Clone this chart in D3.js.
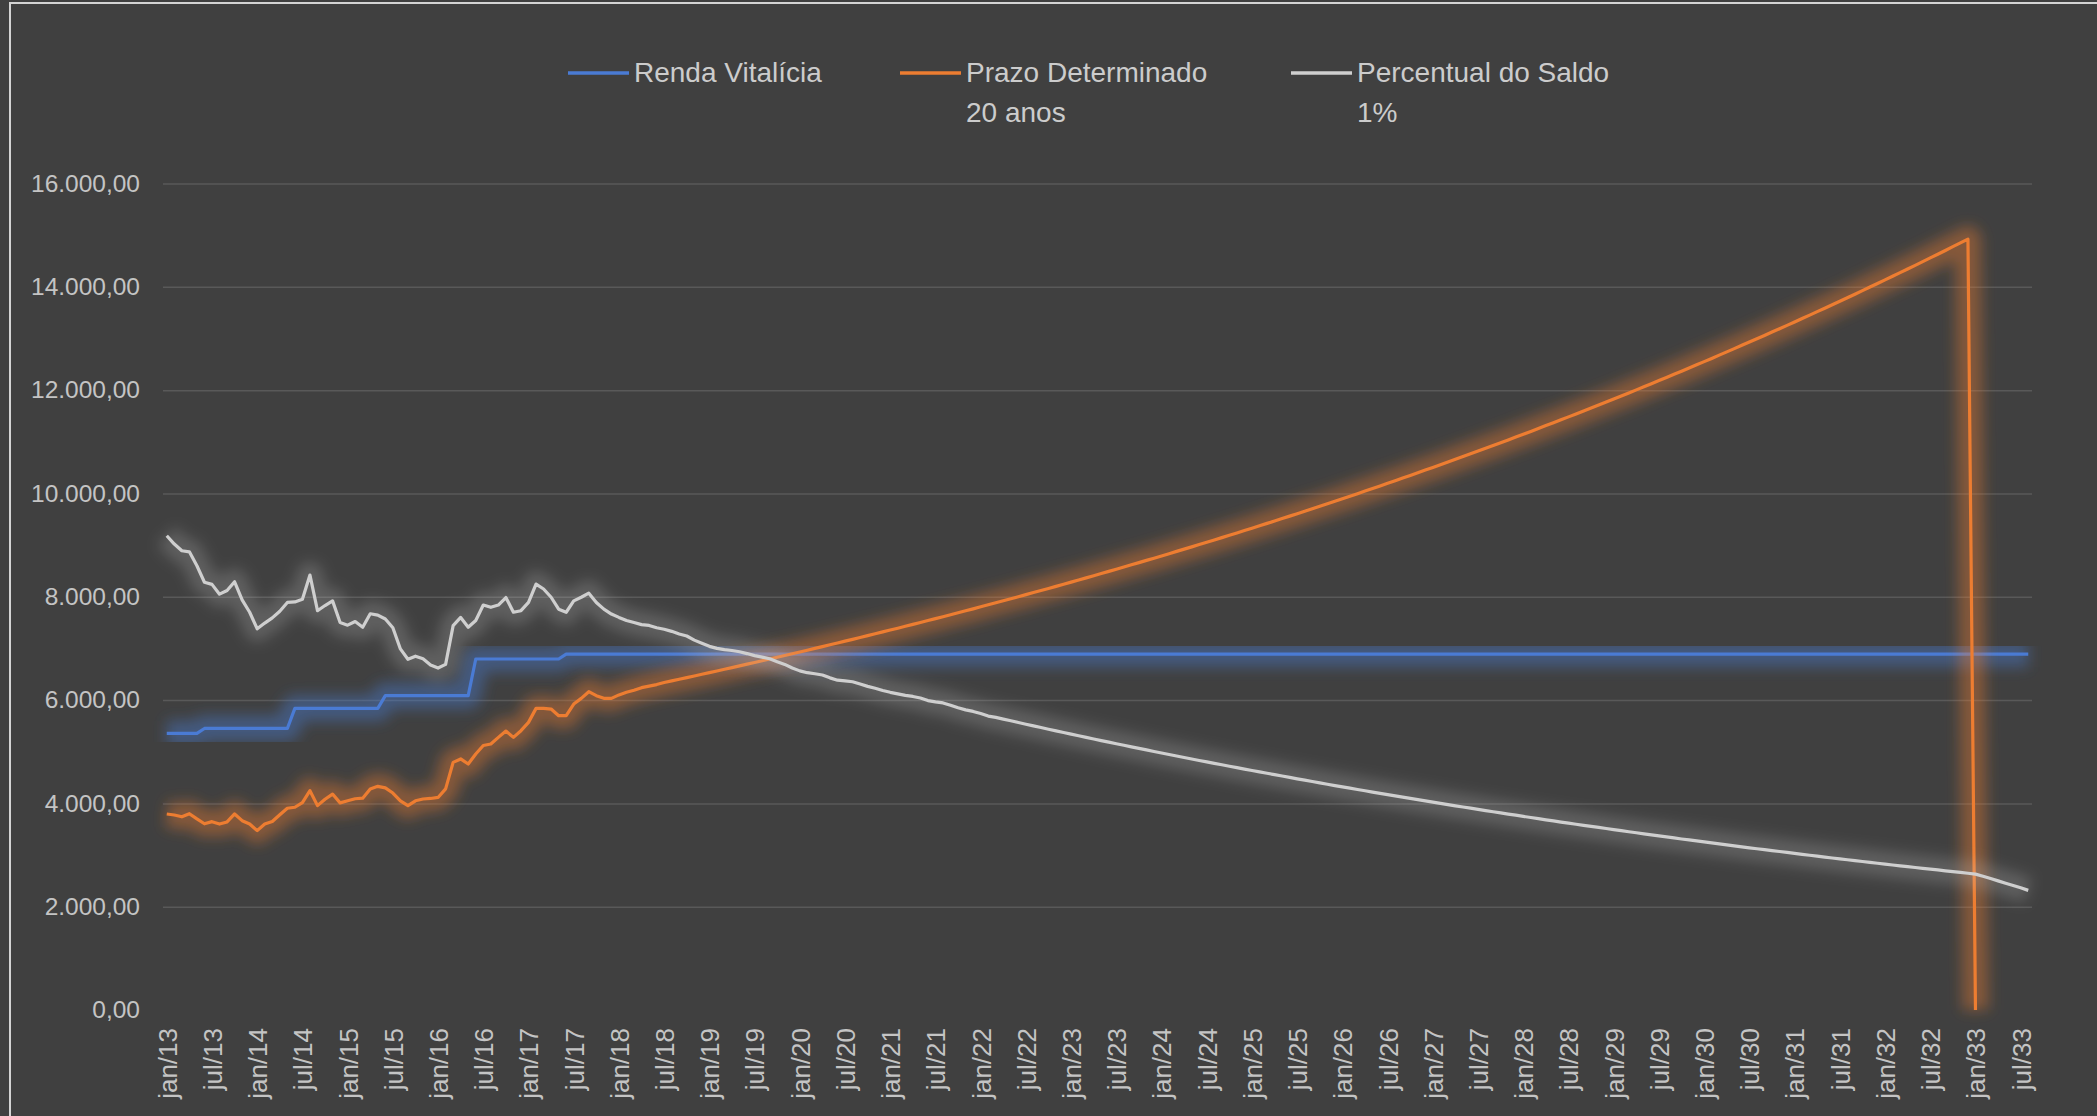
<!DOCTYPE html>
<html>
<head>
<meta charset="utf-8">
<script src="https://cdn.jsdelivr.net/npm/d3@7"></script>
<style>
  html, body { margin: 0; padding: 0; background: #404040; }
  svg { display: block; }
  text { font-family: "Liberation Sans", Arial, sans-serif; }
</style>
</head>
<body>
<svg id="chart" width="2097" height="1116"></svg>
<script>
////////////// Data (one line per year, monthly values jan..dez)
var monthNames = ["jan", "fev", "mar", "abr", "mai", "jun", "jul", "ago", "set", "out", "nov", "dez"];
var firstMonth = new Date(2013, 0, 1),
    lastMonth = new Date(2033, 7, 1);

var yTicks = [0, 2000, 4000, 6000, 8000, 10000, 12000, 14000, 16000];

// Renda Vitalícia
var rendaVitalicia = [
    5355, 5355, 5355, 5355, 5355, 5450, 5450, 5450, 5450, 5450, 5450, 5450,
    5450, 5450, 5450, 5450, 5450, 5840, 5840, 5840, 5840, 5840, 5840, 5840,
    5840, 5840, 5840, 5840, 5840, 6085, 6085, 6085, 6085, 6085, 6085, 6085,
    6085, 6085, 6085, 6085, 6085, 6795, 6795, 6795, 6795, 6795, 6795, 6795,
    6795, 6795, 6795, 6795, 6795, 6890, 6890, 6890, 6890, 6890, 6890, 6890,
    6890, 6890, 6890, 6890, 6890, 6890, 6890, 6890, 6890, 6890, 6890, 6890,
    6890, 6890, 6890, 6890, 6890, 6890, 6890, 6890, 6890, 6890, 6890, 6890,
    6890, 6890, 6890, 6890, 6890, 6890, 6890, 6890, 6890, 6890, 6890, 6890,
    6890, 6890, 6890, 6890, 6890, 6890, 6890, 6890, 6890, 6890, 6890, 6890,
    6890, 6890, 6890, 6890, 6890, 6890, 6890, 6890, 6890, 6890, 6890, 6890,
    6890, 6890, 6890, 6890, 6890, 6890, 6890, 6890, 6890, 6890, 6890, 6890,
    6890, 6890, 6890, 6890, 6890, 6890, 6890, 6890, 6890, 6890, 6890, 6890,
    6890, 6890, 6890, 6890, 6890, 6890, 6890, 6890, 6890, 6890, 6890, 6890,
    6890, 6890, 6890, 6890, 6890, 6890, 6890, 6890, 6890, 6890, 6890, 6890,
    6890, 6890, 6890, 6890, 6890, 6890, 6890, 6890, 6890, 6890, 6890, 6890,
    6890, 6890, 6890, 6890, 6890, 6890, 6890, 6890, 6890, 6890, 6890, 6890,
    6890, 6890, 6890, 6890, 6890, 6890, 6890, 6890, 6890, 6890, 6890, 6890,
    6890, 6890, 6890, 6890, 6890, 6890, 6890, 6890, 6890, 6890, 6890, 6890,
    6890, 6890, 6890, 6890, 6890, 6890, 6890, 6890, 6890, 6890, 6890, 6890,
    6890, 6890, 6890, 6890, 6890, 6890, 6890, 6890, 6890, 6890, 6890, 6890,
    6890, 6890, 6890, 6890, 6890, 6890, 6890, 6890
];

// Prazo Determinado 20 anos (ends jan/33)
var prazoDeterminado = [
    3795, 3775, 3740, 3800, 3700, 3605, 3646, 3600, 3640, 3795, 3665, 3600,
    3472, 3600, 3650, 3780, 3905, 3925, 4015, 4246, 3956, 4080, 4180, 4010,
    4050, 4090, 4100, 4280, 4330, 4300, 4200, 4050, 3956, 4050, 4085, 4095,
    4115, 4280, 4794, 4860, 4762, 4956, 5120, 5150, 5278, 5400, 5278, 5407,
    5568, 5839, 5839, 5826, 5697, 5697, 5923, 6033, 6162, 6085, 6033, 6033,
    6100, 6150, 6190, 6240, 6270, 6300, 6340, 6371, 6403, 6435, 6467, 6499,
    6531, 6563, 6596, 6629, 6662, 6695, 6728, 6761, 6795, 6829, 6863, 6897,
    6931, 6965, 7000, 7035, 7070, 7105, 7140, 7175, 7211, 7247, 7283, 7319,
    7355, 7391, 7428, 7465, 7502, 7539, 7576, 7614, 7652, 7690, 7728, 7766,
    7805, 7844, 7883, 7922, 7961, 8001, 8041, 8081, 8121, 8161, 8201, 8242,
    8283, 8324, 8365, 8407, 8449, 8491, 8533, 8575, 8618, 8661, 8704, 8747,
    8790, 8834, 8878, 8922, 8966, 9010, 9055, 9100, 9145, 9190, 9236, 9282,
    9328, 9374, 9420, 9467, 9514, 9561, 9608, 9656, 9704, 9752, 9800, 9849,
    9898, 9947, 9996, 10046, 10096, 10146, 10196, 10247, 10298, 10349, 10400, 10452,
    10504, 10556, 10608, 10661, 10714, 10767, 10820, 10874, 10928, 10982, 11036, 11091,
    11146, 11201, 11257, 11313, 11369, 11425, 11482, 11539, 11596, 11654, 11712, 11770,
    11828, 11887, 11946, 12005, 12065, 12125, 12185, 12245, 12306, 12367, 12428, 12490,
    12552, 12614, 12677, 12740, 12803, 12867, 12931, 12995, 13059, 13124, 13189, 13254,
    13320, 13386, 13452, 13519, 13586, 13653, 13721, 13789, 13857, 13926, 13995, 14064,
    14134, 14204, 14274, 14345, 14416, 14487, 14559, 14631, 14704, 14777, 14850, 14923,
    0
];

// Percentual do Saldo 1%
var percentualSaldo = [
    9180, 9020, 8890, 8870, 8600, 8280, 8240, 8050, 8120, 8290, 7940, 7700,
    7380, 7490, 7590, 7720, 7890, 7900, 7950, 8420, 7730, 7830, 7920, 7500,
    7450, 7520, 7410, 7670, 7645, 7570, 7400, 6990, 6790, 6850, 6800, 6680,
    6620, 6690, 7440, 7600, 7410, 7540, 7840, 7795, 7840, 7985, 7700, 7730,
    7890, 8245, 8150, 7990, 7760, 7700, 7920, 7990, 8070, 7890, 7760, 7665,
    7600, 7540, 7500, 7460, 7445, 7400, 7370, 7330, 7280, 7240, 7160, 7100,
    7040, 7000, 6975, 6960, 6935, 6900, 6860, 6830, 6800, 6740, 6690, 6620,
    6565, 6530, 6510, 6485, 6430, 6385, 6370, 6355, 6310, 6265, 6230, 6185,
    6150, 6120, 6090, 6070, 6040, 5990, 5965, 5945, 5900, 5850, 5810, 5780,
    5740, 5690, 5665, 5632, 5599, 5566, 5533, 5500, 5468, 5436, 5404, 5372,
    5340, 5309, 5278, 5247, 5216, 5185, 5155, 5125, 5095, 5065, 5035, 5005,
    4976, 4947, 4918, 4889, 4860, 4831, 4803, 4775, 4747, 4719, 4691, 4664,
    4637, 4610, 4583, 4556, 4529, 4502, 4475, 4449, 4423, 4397, 4371, 4345,
    4319, 4294, 4269, 4244, 4218, 4193, 4168, 4144, 4120, 4096, 4072, 4048,
    4024, 4000, 3976, 3953, 3930, 3907, 3884, 3861, 3838, 3815, 3793, 3771,
    3748, 3726, 3704, 3682, 3660, 3638, 3617, 3596, 3575, 3554, 3534, 3513,
    3492, 3471, 3451, 3431, 3411, 3391, 3371, 3351, 3331, 3311, 3292, 3273,
    3254, 3235, 3216, 3197, 3178, 3159, 3140, 3122, 3104, 3086, 3068, 3050,
    3032, 3014, 2996, 2978, 2960, 2943, 2926, 2909, 2892, 2875, 2858, 2841,
    2824, 2807, 2791, 2775, 2759, 2743, 2727, 2711, 2695, 2679, 2663, 2647,
    2631, 2590, 2545, 2500, 2455, 2410, 2365, 2316
];

var seriesList = [
    { name: ["Renda Vitalícia"], values: rendaVitalicia, color: "#4a7bd4", glow: 0.42, legendX: 568 },
    { name: ["Prazo Determinado", "20 anos"], values: prazoDeterminado, color: "#ed7d31", glow: 0.4, legendX: 900 },
    { name: ["Percentual do Saldo", "1%"], values: percentualSaldo, color: "#cfcfcf", glow: 0.22, legendX: 1291 }
];

////////////// Layout
var plotLeft = 163, plotRight = 2032, plotTop = 183.5, plotBottom = 1010;

var svg = d3.select("#chart");

svg.append("rect")
    .attr("width", 2097).attr("height", 1116)
    .attr("fill", "#404040");

// chart border (only top and left are inside the picture)
svg.append("rect")
    .attr("x", 10).attr("y", 3)
    .attr("width", 2200).attr("height", 1300)
    .attr("fill", "none")
    .attr("stroke", "#d4d4d4")
    .attr("stroke-width", 2);

var months = d3.timeMonth.range(firstMonth, d3.timeMonth.offset(lastMonth, 1));

var x = d3.scalePoint()
    .domain(months.map(d => +d))
    .range([plotLeft, plotRight])
    .padding(0.5);

var y = d3.scaleLinear()
    .domain([0, 16000])
    .range([plotBottom, plotTop]);

var ptBR = d3.formatLocale({ decimal: ",", thousands: ".", grouping: [3], currency: ["R$ ", ""] });
var fmtY = ptBR.format(",.2f");
var fmtMonth = d => monthNames[d.getMonth()] + "/" + String(d.getFullYear()).slice(2);

// gridlines
svg.append("g")
    .attr("class", "grid")
    .attr("transform", "translate(" + plotLeft + ",0)")
    .call(d3.axisLeft(y).tickValues(yTicks.filter(v => v > 0)).tickSize(-(plotRight - plotLeft)).tickFormat(""))
    .call(g => g.select(".domain").remove())
    .selectAll("line")
    .attr("stroke", "#595959")
    .attr("stroke-width", 1.5);

// y axis labels
svg.append("g")
    .attr("transform", "translate(" + plotLeft + ",0)")
    .call(d3.axisLeft(y).tickValues(yTicks).tickSize(0).tickPadding(23).tickFormat(fmtY))
    .call(g => g.select(".domain").remove())
    .selectAll("text")
    .attr("fill", "#c4c4c4")
    .style("font-size", "24.5px");

// x axis labels (jan and jul)
var xTickValues = months.filter(d => d.getMonth() === 0 || d.getMonth() === 6).map(d => +d);

svg.append("g")
    .attr("transform", "translate(0," + plotBottom + ")")
    .call(d3.axisBottom(x).tickValues(xTickValues).tickSize(0).tickFormat(d => fmtMonth(new Date(d))))
    .call(g => g.select(".domain").remove())
    .selectAll("text")
    .attr("transform", "rotate(-90)")
    .attr("x", -18)
    .attr("y", 0)
    .attr("dy", "0.36em")
    .style("text-anchor", "end")
    .attr("fill", "#c4c4c4")
    .style("font-size", "26px");

////////////// Lines with glow
var defs = svg.append("defs");
defs.append("filter")
    .attr("id", "glow")
    .attr("x", "-10%").attr("y", "-10%")
    .attr("width", "120%").attr("height", "120%")
    .append("feGaussianBlur")
    .attr("stdDeviation", 7);

var line = d3.line()
    .defined(d => d != null)
    .x((d, i) => x(+months[i]))
    .y(d => y(d));

seriesList.forEach(function(s) {
    var g = svg.append("g");
    g.append("path")
        .datum(s.values)
        .attr("d", line)
        .attr("fill", "none")
        .attr("stroke", s.color)
        .attr("stroke-width", 26)
        .attr("stroke-opacity", s.glow)
        .attr("stroke-linejoin", "round")
        .attr("filter", "url(#glow)");
    g.append("path")
        .datum(s.values)
        .attr("d", line)
        .attr("fill", "none")
        .attr("stroke", s.color)
        .attr("stroke-width", 3.2)
        .attr("stroke-linejoin", "round");
});

////////////// Legend
var legend = svg.append("g").attr("class", "legend");

seriesList.forEach(function(s) {
    var lg = legend.append("g").attr("transform", "translate(" + s.legendX + ",0)");
    lg.append("line")
        .attr("x1", 0).attr("x2", 61)
        .attr("y1", 73).attr("y2", 73)
        .attr("stroke", s.color)
        .attr("stroke-width", 3.5);
    s.name.forEach(function(t, k) {
        lg.append("text")
            .attr("x", 66)
            .attr("y", 82 + k * 40)
            .attr("fill", "#cccccc")
            .style("font-size", "28px")
            .text(t);
    });
});
</script>
</body>
</html>
